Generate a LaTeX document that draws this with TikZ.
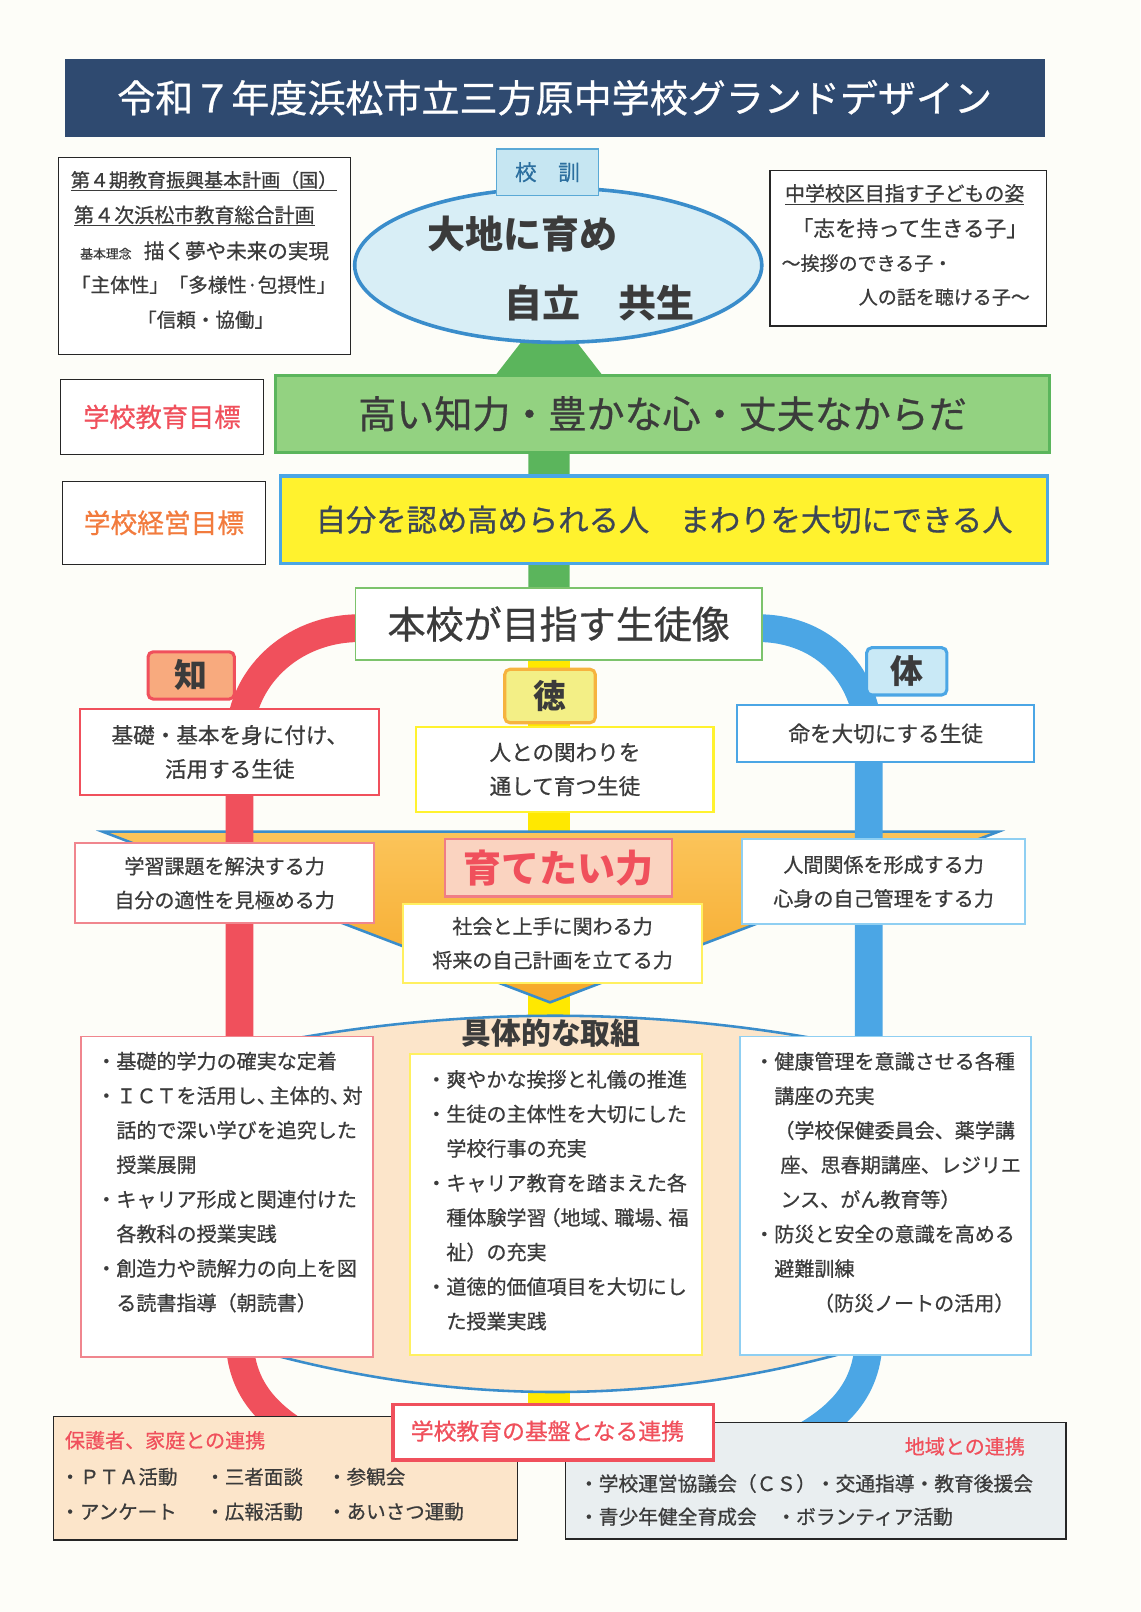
\documentclass[tikz,border=0pt]{standalone}
\usepackage{fontspec}
\setmainfont{Noto Sans CJK JP}[UprightFeatures={FakeBold=0.7}]
\usetikzlibrary{shapes.geometric}
\definecolor{paper}{HTML}{FDFDF8}
\definecolor{navy}{HTML}{2F4A70}
\definecolor{ink}{HTML}{3B3B3B}
\definecolor{kslate}{HTML}{3C4656}
\definecolor{kred}{HTML}{F0505C}
\definecolor{korange}{HTML}{F27B3D}
\definecolor{kgreen}{HTML}{5BB55C}
\definecolor{kgreenfill}{HTML}{93D281}
\definecolor{kgreenline}{HTML}{7CC36C}
\definecolor{kblue}{HTML}{4BA6E5}
\definecolor{kdblue}{HTML}{3A8DCB}
\definecolor{kyellow}{HTML}{FFF22E}
\definecolor{kybar}{HTML}{FFE800}
\definecolor{kskin}{HTML}{FCE5CA}
\definecolor{kgray}{HTML}{E9EEF0}
\definecolor{kpinkline}{HTML}{F0868E}
\definecolor{klblue}{HTML}{8FCFF2}
\definecolor{klyellow}{HTML}{FFF060}
\definecolor{kellfill}{HTML}{D8EEF6}
\definecolor{kteal}{HTML}{5AA9D6}
\definecolor{ktealtext}{HTML}{2C6F9F}
\definecolor{kltblue}{HTML}{C6E6F2}
\definecolor{kzhi}{HTML}{F8AA7E}
\definecolor{kde}{HTML}{F3EF86}
\definecolor{kdeline}{HTML}{F6B33F}
\definecolor{kti}{HTML}{C9E9F6}
\definecolor{kfunnelA}{HTML}{FBC45A}
\definecolor{kfunnelB}{HTML}{F6A828}
\definecolor{kpower}{HTML}{FAD3C0}
\definecolor{kpowerline}{HTML}{F07D85}
\newcommand{\jfs}[2]{\fontsize{#1}{#2}\selectfont}
\begin{document}
\begin{tikzpicture}[x=1pt,y=-1pt,
  every node/.style={inner sep=0pt, text=ink},
  plainbox/.style={draw=black!85, line width=1.2pt, fill=white},
  labelbox/.style={rounded corners=5pt, line width=3pt, font=\jfs{32}{32}\bfseries},
  pinkbox/.style={draw=kpinkline, fill=white, line width=1.5pt},
  blubox/.style={draw=klblue, fill=white, line width=1.5pt},
  yelbox/.style={draw=klyellow, fill=white, line width=2pt},
  twoline/.style={align=center, font=\jfs{19.5}{33}},
  listtext/.style={anchor=west, align=left, font=\jfs{19.5}{33.6}},
  bartext/.style={anchor=west, font=\jfs{19}{19}}
]
\useasboundingbox[fill=paper] (0,0) rectangle (1109,1568);

% title
\node[fill=navy, minimum width=953pt, minimum height=76pt, text=white, font=\jfs{37}{40}] (title) at (539.5,95) {令和７年度浜松市立三方原中学校グランドデザイン};

% green arrow
\coordinate (ga1) at (514,572);
\coordinate (ga2) at (514,365);
\coordinate (ga3) at (482,365);
\coordinate (gatip) at (534,298);
\coordinate (ga5) at (586,365);
\coordinate (ga6) at (554,365);
\coordinate (ga7) at (554,572);
\fill[kgreen] (ga1) -- (ga2) -- (ga3) -- (gatip) -- (ga5) -- (ga6) -- (ga7) -- cycle;

% motto ellipse
\node[ellipse, draw=kdblue, line width=3.5pt, fill=kellfill, minimum width=396pt, minimum height=150pt] (motto) at (543,258) {};
\node[font=\jfs{37}{37}\bfseries] (motto1) at (508,228) {大地に育め};
\node[font=\jfs{37}{37}\bfseries] (motto2) at (583,295) {自立　共生};
\node[draw=kteal, fill=kltblue, line width=1.5pt, minimum width=99pt, minimum height=45pt, text=ktealtext, font=\jfs{21}{21}] (kokun) at (532.5,167.5) {校　訓};

% left info box
\node[plainbox, minimum width=284pt, minimum height=192pt] (plan) at (199,249) {};
\node[font=\jfs{18.5}{18.5}] (plan1) at (198.5,176) {\underline{第４期教育振興基本計画（国）}};
\node[font=\jfs{19.5}{19.5}] (plan2) at (189,210) {\underline{第４次浜松市教育総合計画}};
\node[font=\jfs{20}{20}] (plan3) at (199,244) {{\jfs{12.5}{12.5}基本理念}\hspace{12pt}描く夢や未来の実現};
\node[font=\jfs{19}{19}] (plan4) at (198,277) {「主体性」「多様性·包摂性」};
\node[font=\jfs{19}{19}] (plan5) at (200,311) {「信頼・協働」};

% right info box
\node[plainbox, minimum width=269pt, minimum height=151pt] (child) at (883.5,241.5) {};
\node[font=\jfs{19.4}{19.4}] (child1) at (880,189) {\underline{中学校区目指す子どもの姿}};
\node[font=\jfs{21}{21}] (child2) at (885,222) {「志を持って生きる子」};
\node[font=\jfs{18.5}{18.5}, anchor=west] (child3) at (760,256) {～挨拶のできる子・};
\node[font=\jfs{18.5}{18.5}, anchor=east] (child4) at (1002,289) {人の話を聴ける子～};

% goals
\node[plainbox, minimum width=197pt, minimum height=73pt, text=kred, font=\jfs{25.5}{25.5}] (goal1lbl) at (157.5,405.5) {学校教育目標};
\node[draw=kgreen, fill=kgreenfill, line width=3pt, minimum width=753pt, minimum height=75pt, font=\jfs{37}{37}] (goal1) at (644.5,402.5) {高い知力・豊かな心・丈夫なからだ};
\node[plainbox, minimum width=197pt, minimum height=81pt, text=korange, font=\jfs{26}{26}] (goal2lbl) at (159.5,508.5) {学校経営目標};
\node[draw=kblue, fill=kyellow, line width=3pt, minimum width=746pt, minimum height=85pt, text=kslate, font=\jfs{29.5}{29.5}] (goal2) at (646,505.5) {自分を認め高められる人　まわりを大切にできる人};

% bars
\coordinate (ytop) at (534,640);
\coordinate (ybot) at (534,1372);
\draw[kybar, line width=40pt] (ytop) -- (ybot);

% funnel
\coordinate (fL) at (100,809);
\coordinate (fR) at (971,809);
\coordinate (fT) at (535,975);
\draw[draw=kdblue, line width=2.5pt, line join=miter, top color=kfunnelA, bottom color=kfunnelB] (fL) -- (fR) -- (fT) -- cycle;

% red and blue arcs
\coordinate (rS) at (350,611);
\coordinate (rV1) at (233,720);
\coordinate (rV2) at (233,1300);
\coordinate (rE) at (297,1398);
\draw[kred, line width=27pt] (rS) .. controls (283.6,611) and (233,659.8) .. (rV1) -- (rV2) .. controls (233,1347) and (257,1375) .. (rE);
\coordinate (bS) at (737,611);
\coordinate (bV1) at (845,720);
\coordinate (bV2) at (845,1300);
\coordinate (bE) at (781,1398);
\draw[kblue, line width=27pt] (bS) .. controls (803.5,611) and (845,659.8) .. (bV1) -- (bV2) .. controls (845,1347) and (821,1375) .. (bE);

% lens of activities
\coordinate (lTL) at (100,1055);
\coordinate (lTR) at (980,1055);
\coordinate (lBR) at (980,1261);
\coordinate (lBL) at (100,1261);
\filldraw[draw=kdblue, line width=2.5pt, fill=kskin] (lTL) .. controls (393.3,965.7) and (686.7,965.7) .. (lTR) -- (lBR) .. controls (686.7,1385) and (393.3,1385) .. (lBL) -- cycle;

% ideal student
\node[draw=kgreenline, fill=white, line width=1.5pt, minimum width=395pt, minimum height=70pt, font=\jfs{37}{37}] (ideal) at (543.5,607) {本校が目指す生徒像};

% labels
\node[labelbox, draw=kred, fill=kzhi, minimum width=84pt, minimum height=46pt] (zhi) at (186,657) {知};
\node[labelbox, draw=kdeline, fill=kde, minimum width=88pt, minimum height=52pt] (de) at (535,677) {徳};
\node[labelbox, draw=kblue, fill=kti, minimum width=78pt, minimum height=46pt] (ti) at (882,653) {体};

\node[draw=kred, fill=white, line width=2pt, minimum width=291pt, minimum height=83pt, align=center, font=\jfs{21}{33}] (zhibox) at (223.5,731.5) {基礎・基本を身に付け、\\活用する生徒};
\node[draw=kyellow, fill=white, line width=2pt, minimum width=289pt, minimum height=83pt, align=center, font=\jfs{21}{33}] (debox) at (549.5,748.5) {人との関わりを\\通して育つ生徒};
\node[draw=kblue, fill=white, line width=2pt, minimum width=289pt, minimum height=55pt, font=\jfs{21}{21}] (tibox) at (861.5,713.5) {命を大切にする生徒};

% powers
\node[draw=kpowerline, fill=kpower, line width=2pt, minimum width=221pt, minimum height=56pt, text=kred, font=\jfs{37}{37}\bfseries] (power) at (543.5,844) {育てたい力};
\node[pinkbox, twoline, minimum width=291pt, minimum height=78pt] (skillL) at (218.5,859) {学習課題を解決する力\\自分の適性を見極める力};
\node[blubox, twoline, minimum width=275pt, minimum height=83pt] (skillR) at (859.5,857.5) {人間関係を形成する力\\心身の自己管理をする力};
\node[yelbox, twoline, minimum width=291pt, minimum height=77pt] (skillM) at (537.5,917.5) {社会と上手に関わる力\\将来の自己計画を立てる力};

% activities
\node[font=\jfs{29}{29}\bfseries] (acttitle) at (536,1005) {具体的な取組};
\node[pinkbox, minimum width=284pt, minimum height=312pt] (actL) at (221,1164) {};
\node[yelbox, minimum width=284pt, minimum height=293pt] (actM) at (541,1171.5) {};
\node[blubox, minimum width=283pt, minimum height=310pt] (actR) at (861.5,1163) {};
\node[listtext] (actLt) at (93.5,1149.8) {・基礎的学力の確実な定着\\・ＩＣＴを活用し、\kern-7pt 主体的、\kern-7pt 対\\\hspace*{19.5pt}話的で深い学びを追究した\\\hspace*{19.5pt}授業展開\\・キャリア形成と関連付けた\\\hspace*{19.5pt}各教科の授業実践\\・創造力や読解力の向上を図\\\hspace*{19.5pt}る読書指導（朝読書）};
\node[listtext] (actMt) at (414.5,1167.5) {・爽やかな挨拶と礼儀の推進\\・生徒の主体性を大切にした\\\hspace*{19.5pt}学校行事の充実\\・キャリア教育を踏まえた各\\\hspace*{19.5pt}種体験学習\kern-6pt（地域、\kern-6pt 職場、\kern-6pt 福\\\hspace*{19.5pt}祉）の充実\\・道徳的価値項目を大切にし\\\hspace*{19.5pt}た授業実践};
\node[listtext] (actRt) at (733.5,1150) {・健康管理を意識させる各種\\\hspace*{19.5pt}講座の充実\\\hspace*{19.5pt}（学校保健委員会、薬学講\\\hspace*{25.5pt}座、思春期講座、レジリエ\\\hspace*{25.5pt}ンス、がん教育等）\\・防災と安全の意識を高める\\\hspace*{19.5pt}避難訓練\\\hspace*{58pt}（防災ノートの活用）};

% partnerships
\node[draw=black!85, fill=kskin, line width=1.2pt, minimum width=451pt, minimum height=120pt] (home) at (277.5,1438) {};
\node[anchor=west, text=kred, font=\jfs{19.5}{19.5}] (homeT) at (63,1401) {保護者、家庭との連携};
\node[bartext] (h1) at (58.5,1436.5) {・ＰＴＡ活動};
\node[bartext] (h2) at (199.5,1436.5) {・三者面談};
\node[bartext] (h3) at (318,1436.5) {・参観会};
\node[bartext] (h4) at (58.5,1470.4) {・アンケート};
\node[bartext] (h5) at (199.5,1470.4) {・広報活動};
\node[bartext] (h6) at (318,1470.4) {・あいさつ運動};

\node[draw=black!85, fill=kgray, line width=1.2pt, minimum width=487pt, minimum height=113pt] (area) at (793.5,1440.5) {};
\node[text=kred, font=\jfs{19.5}{19.5}] (areaT) at (938.5,1407) {地域との連携};
\node[anchor=west, font=\jfs{19.2}{19.2}] (a1) at (563,1443) {・学校運営協議会（ＣＳ）・交通指導・教育後援会};
\node[anchor=west, font=\jfs{19.2}{19.2}] (a2) at (563,1475.3) {・青少年健全育成会　・ボランティア活動};

\node[draw=kred, fill=white, line width=3.5pt, minimum width=312pt, minimum height=54pt] (base) at (538,1393) {};
\node[text=kred, font=\jfs{22.2}{22.2}] (baset) at (532.5,1392) {学校教育の基盤となる連携};
\end{tikzpicture}
\end{document}
